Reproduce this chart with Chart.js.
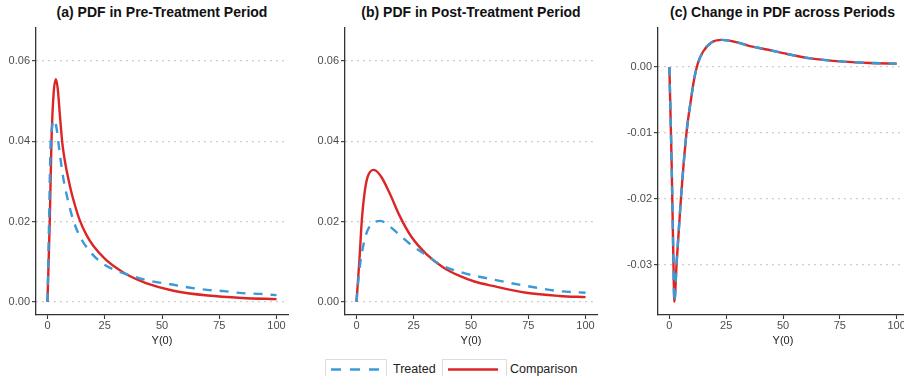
<!DOCTYPE html>
<html>
<head>
<meta charset="utf-8">
<script src="https://cdn.jsdelivr.net/npm/chart.js@4"></script>
<style>
  html, body { margin: 0; padding: 0; background: #fff; }
  #wrap { position: relative; width: 904px; height: 376px; overflow: hidden; font-family: "Liberation Sans", Arial, Helvetica, sans-serif; }
  canvas { position: absolute; top: 0; }
  .title { position: absolute; top: 4px; font-size: 14px; line-height: 17px; font-weight: bold; color: #111; text-align: center; white-space: nowrap; }
  .key { position: absolute; top: 359px; height: 22px; border: 1px solid #dcdcdc; box-sizing: border-box; }
  .lab { position: absolute; top: 361px; font-size: 12.5px; line-height: 16px; color: #222; white-space: nowrap; }
</style>
</head>
<body>
<div id="wrap">
  <div class="title" style="left:36px;width:252px">(a) PDF in Pre-Treatment Period</div>
  <div class="title" style="left:345px;width:252px">(b) PDF in Post-Treatment Period</div>
  <div class="title" style="left:658px;width:249px">(c) Change in PDF across Periods</div>
  <canvas id="pre" width="300" height="350" style="left:0px;width:300px;height:350px"></canvas>
  <canvas id="post" width="300" height="350" style="left:309px;width:300px;height:350px"></canvas>
  <canvas id="change" width="290" height="350" style="left:618px;width:290px;height:350px"></canvas>
  <div class="key" style="left:325px;width:62px">
    <svg width="60" height="20"><line x1="5" y1="9.5" x2="54" y2="9.5" stroke="#3a9ad9" stroke-width="2.6" stroke-dasharray="10 9"/></svg>
  </div>
  <div class="lab" style="left:393px">Treated</div>
  <div class="key" style="left:442px;width:65px">
    <svg width="63" height="20"><line x1="5" y1="9.5" x2="55" y2="9.5" stroke="#dc2626" stroke-width="2.6"/></svg>
  </div>
  <div class="lab" style="left:510px">Comparison</div>
</div>
<script>
const BLUE = "#3a9ad9";
const RED = "#dc2626";

// (a) pre-treatment period
const preTreatedX = [0, 0.7, 1.3, 2, 3, 4, 4.7, 6.9, 9, 11.2, 14, 18.5, 24.3, 31.6, 38.9, 45, 53.7, 61.7, 69.7, 77, 85, 93, 100];
const preTreatedY = [0, 0.02, 0.038, 0.0435, 0.0453, 0.0432, 0.04, 0.0309, 0.0252, 0.0205, 0.0165, 0.0126, 0.0095, 0.0075, 0.0061, 0.0052, 0.0044, 0.0036, 0.003, 0.0027, 0.0022, 0.002, 0.0017];
const preComparisonX = [0, 1, 1.75, 2.7, 3.7, 4.5, 5.5, 6.5, 7.5, 9, 10.5, 12, 14, 17, 20, 25, 30, 35, 43, 55, 70, 85, 100];
const preComparisonY = [0, 0.02, 0.04, 0.052, 0.0555, 0.053, 0.046, 0.0395, 0.0355, 0.031, 0.0272, 0.0241, 0.0205, 0.0167, 0.014, 0.0108, 0.0085, 0.0067, 0.0047, 0.0028, 0.0016, 0.001, 0.0007];

// (b) post-treatment period
const postTreatedX = [0, 1.3, 3.5, 5.7, 8, 10.5, 13.7, 18.8, 23.9, 30.4, 37, 45, 59.5, 74.1, 88.6, 100];
const postTreatedY = [0, 0.008, 0.0154, 0.0188, 0.0199, 0.0202, 0.0192, 0.0167, 0.0142, 0.0117, 0.0092, 0.0075, 0.0056, 0.004, 0.0027, 0.0023];
const postComparisonX = [0, 1.3, 2.3, 3.5, 4.9, 7.6, 10.8, 14.4, 18.8, 23.9, 30.4, 38.4, 45, 51.5, 59.5, 74.1, 88.6, 100];
const postComparisonY = [0, 0.0105, 0.02, 0.027, 0.0312, 0.0329, 0.0312, 0.0272, 0.0215, 0.0163, 0.012, 0.0084, 0.0065, 0.0051, 0.004, 0.0023, 0.0015, 0.0012];

// (c) change across periods (same for both groups)
const changeX = [0, 1, 1.8, 2.2, 3.2, 5.1, 7.5, 9.7, 11.1, 12.6, 14.8, 18.5, 23, 28.9, 35, 43.6, 50, 62, 76.8, 88, 100];
const changeY = [0, -0.0146, -0.0297, -0.0356, -0.0297, -0.0199, -0.0101, -0.0045, -0.0015, 0.0006, 0.0023, 0.0037, 0.0041, 0.0038, 0.0032, 0.0026, 0.0021, 0.0013, 0.0008, 0.0006, 0.0005];

const xTicks = [0, 25, 50, 75, 100];
const xTickLabels = ["0", "25", "50", "75", "100"];
const pdfTicks = [0, 0.02, 0.04, 0.06];
const pdfTickLabels = ["0.00", "0.02", "0.04", "0.06"];
const changeTicks = [-0.03, -0.02, -0.01, 0];
const changeTickLabels = ["-0.03", "-0.02", "-0.01", "0.00"];

const pts = (xs, ys) => xs.map((x, i) => ({ x, y: ys[i] }));

Chart.defaults.font.family = '"Liberation Sans", Arial, Helvetica, sans-serif';
Chart.defaults.font.size = 11;
Chart.defaults.animation = false;

const line = (label, data, color, dashed) => ({
  label,
  data,
  borderColor: color,
  borderWidth: 2.4,
  borderDash: dashed ? [9, 8] : [],
  pointRadius: 0,
  cubicInterpolationMode: "monotone",
  fill: false,
});

const makeChart = (id, datasets, yMin, yMax, yTicks, yLabels, yWidth, padRight) =>
  new Chart(document.getElementById(id), {
    type: "line",
    data: { datasets },
    options: {
      responsive: false,
      animation: false,
      layout: { padding: { top: 28, right: padRight, left: 0, bottom: 0 } },
      plugins: { legend: { display: false }, tooltip: { enabled: false } },
      scales: {
        x: {
          type: "linear",
          min: -5,
          max: 105,
          afterBuildTicks: (s) => { s.ticks = xTicks.map((v) => ({ value: v })); },
          afterFit: (s) => { s.height = 35; },
          ticks: {
            autoSkip: false,
            maxRotation: 0,
            padding: 0,
            color: "#4d4d4d",
            callback: (v, i) => xTickLabels[i],
          },
          grid: { drawOnChartArea: false, tickLength: 4, tickColor: "#333", tickWidth: 1.1 },
          border: { color: "#333", width: 1.3 },
          title: { display: true, text: "Y(0)", color: "#222", font: { size: 11 }, padding: { top: 0, bottom: 2 } },
        },
        y: {
          type: "linear",
          min: yMin,
          max: yMax,
          afterBuildTicks: (s) => { s.ticks = yTicks.map((v) => ({ value: v })); },
          afterFit: (s) => { s.width = yWidth; },
          ticks: {
            padding: 2,
            color: "#4d4d4d",
            callback: (v, i) => yLabels[i],
          },
          grid: { color: "#b5b5b5", lineWidth: 1.3, tickLength: 4, tickColor: "#333", tickWidth: 1.1, tickBorderDash: [] },
          border: { color: "#333", width: 1.3, dash: [1.3, 4.7] },
        },
      },
    },
  });

makeChart("pre", [
  line("Treated", pts(preTreatedX, preTreatedY), BLUE, true),
  line("Comparison", pts(preComparisonX, preComparisonY), RED, false),
], -0.00325, 0.06825, pdfTicks, pdfTickLabels, 36, 12);

makeChart("post", [
  line("Treated", pts(postTreatedX, postTreatedY), BLUE, true),
  line("Comparison", pts(postComparisonX, postComparisonY), RED, false),
], -0.00325, 0.06825, pdfTicks, pdfTickLabels, 36, 12);

makeChart("change", [
  line("Treated", pts(changeX, changeY), BLUE, true),
  line("Comparison", pts(changeX, changeY), RED, false),
], -0.0376, 0.0059, changeTicks, changeTickLabels, 40, 0);
</script>
</body>
</html>
